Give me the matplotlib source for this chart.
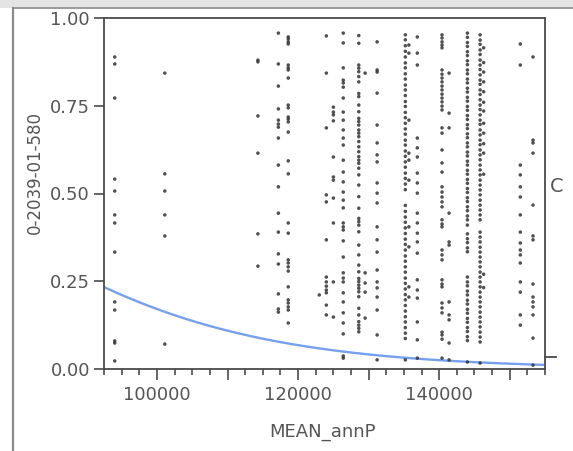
import numpy as np
import matplotlib
matplotlib.use("Agg")
import matplotlib.pyplot as plt
from matplotlib.lines import Line2D
from matplotlib.patches import Rectangle
from matplotlib.ticker import MultipleLocator, FuncFormatter

# ---- scatter data: each station column (MEAN_annP) with its observed values ----
col_094000 = [0.889, 0.869, 0.772, 0.541, 0.507, 0.439, 0.416, 0.333, 0.191, 0.168, 0.080, 0.074, 0.023]
col_101100 = [0.843, 0.556, 0.507, 0.439, 0.379, 0.071]
col_114300 = [0.880, 0.875, 0.721, 0.615, 0.385, 0.293]
col_117200 = [0.957, 0.869, 0.806, 0.741, 0.709, 0.698, 0.689, 0.658, 0.581, 0.519, 0.444, 0.390,
              0.328, 0.299, 0.214, 0.171, 0.162]
col_118600 = [0.946, 0.940, 0.932, 0.926, 0.866, 0.858, 0.852, 0.829, 0.752, 0.744, 0.718, 0.712,
              0.704, 0.675, 0.593, 0.556, 0.416, 0.387, 0.311, 0.302, 0.291, 0.279, 0.234, 0.197,
              0.188, 0.177, 0.168, 0.131]
col_123000 = [0.211]
col_124000 = [0.949, 0.843, 0.687, 0.496, 0.476, 0.368, 0.262, 0.248, 0.236, 0.225, 0.217, 0.182, 0.154]
col_125000 = [0.746, 0.732, 0.724, 0.707, 0.604, 0.547, 0.538, 0.487, 0.416, 0.248, 0.148]
col_126400 = [0.957, 0.929, 0.858, 0.823, 0.815, 0.803, 0.772, 0.732, 0.709, 0.681, 0.658, 0.638,
              0.595, 0.561, 0.533, 0.504, 0.481, 0.459, 0.416, 0.405, 0.396, 0.365, 0.319, 0.274,
              0.259, 0.248, 0.217, 0.191, 0.160, 0.131, 0.100, 0.037, 0.031]
col_128600 = [0.950, 0.928, 0.866, 0.857, 0.847, 0.833, 0.818, 0.785, 0.776, 0.752, 0.733, 0.714,
              0.705, 0.695, 0.681, 0.672, 0.662, 0.648, 0.633, 0.619, 0.605, 0.595, 0.586, 0.572,
              0.553, 0.524, 0.491, 0.458, 0.429, 0.420, 0.410, 0.391, 0.353, 0.325, 0.296, 0.277,
              0.258, 0.249, 0.239, 0.230, 0.220, 0.206, 0.173, 0.154, 0.135, 0.125, 0.116, 0.106]
col_129500 = [0.843, 0.274, 0.245, 0.219, 0.145]
col_131200 = [0.932, 0.852, 0.846, 0.786, 0.695, 0.644, 0.610, 0.590, 0.530, 0.501, 0.473, 0.405,
              0.368, 0.333, 0.282, 0.248, 0.231, 0.205, 0.168, 0.097, 0.026]
col_135200 = [0.952, 0.938, 0.921, 0.905, 0.889, 0.872, 0.858, 0.841, 0.826, 0.809, 0.795, 0.779,
              0.762, 0.748, 0.731, 0.716, 0.700, 0.684, 0.669, 0.652, 0.638, 0.621, 0.606, 0.590,
              0.575, 0.558, 0.543, 0.527, 0.511, 0.466, 0.449, 0.433, 0.418, 0.402, 0.386, 0.370,
              0.355, 0.339, 0.322, 0.307, 0.291, 0.276, 0.259, 0.244, 0.228, 0.212, 0.197, 0.181,
              0.165, 0.149, 0.134, 0.118, 0.102, 0.087, 0.026]
col_135700 = [0.923, 0.900, 0.709, 0.615, 0.595, 0.538, 0.405, 0.348, 0.234, 0.205]
col_136900 = [0.946, 0.900, 0.866, 0.658, 0.630, 0.604, 0.558, 0.530, 0.501, 0.444, 0.416, 0.387,
              0.362, 0.330, 0.254, 0.225, 0.202, 0.134, 0.083, 0.031]
col_140400 = [0.952, 0.943, 0.932, 0.923, 0.915, 0.852, 0.840, 0.829, 0.818, 0.806, 0.795, 0.783,
              0.772, 0.761, 0.749, 0.738, 0.687, 0.672, 0.624, 0.587, 0.561, 0.519, 0.504, 0.490,
              0.476, 0.462, 0.425, 0.413, 0.405, 0.339, 0.325, 0.311, 0.254, 0.242, 0.234, 0.188,
              0.174, 0.160, 0.105, 0.097, 0.085, 0.031]
col_141400 = [0.843, 0.729, 0.687, 0.444, 0.362, 0.353, 0.191, 0.154, 0.140, 0.074, 0.026]
col_144000 = [0.957, 0.945, 0.930, 0.919, 0.904, 0.893, 0.878, 0.867, 0.852, 0.841, 0.826, 0.815,
              0.800, 0.789, 0.774, 0.763, 0.748, 0.737, 0.722, 0.711, 0.696, 0.685, 0.670, 0.659,
              0.644, 0.633, 0.618, 0.607, 0.592, 0.581, 0.566, 0.555, 0.540, 0.529, 0.514, 0.503,
              0.488, 0.477, 0.462, 0.451, 0.436, 0.425, 0.410, 0.385, 0.371, 0.360, 0.345, 0.334,
              0.262, 0.248, 0.237, 0.222, 0.211, 0.196, 0.185, 0.170, 0.159, 0.144, 0.133, 0.118,
              0.107, 0.092, 0.081, 0.020]
col_145800 = [0.952, 0.937, 0.925, 0.909, 0.896, 0.880, 0.866, 0.853, 0.838, 0.823, 0.811, 0.795,
              0.782, 0.767, 0.752, 0.739, 0.724, 0.709, 0.697, 0.681, 0.667, 0.652, 0.639, 0.624,
              0.610, 0.596, 0.581, 0.567, 0.553, 0.538, 0.524, 0.510, 0.496, 0.481, 0.467, 0.453,
              0.439, 0.425, 0.390, 0.376, 0.362, 0.347, 0.333, 0.319, 0.305, 0.291, 0.276, 0.262,
              0.248, 0.234, 0.219, 0.205, 0.191, 0.177, 0.162, 0.148, 0.134, 0.120, 0.105, 0.091,
              0.077, 0.017]
col_146300 = [0.915, 0.873, 0.846, 0.818, 0.790, 0.760, 0.735, 0.700, 0.672, 0.642, 0.615, 0.555,
              0.270, 0.232]
col_151500 = [0.926, 0.866, 0.581, 0.553, 0.519, 0.490, 0.439, 0.390, 0.359, 0.339, 0.325, 0.302,
              0.248, 0.219, 0.154, 0.125]
col_153300 = [0.889, 0.652, 0.644, 0.615, 0.467, 0.379, 0.368, 0.242, 0.205, 0.191, 0.177, 0.154,
              0.088, 0.011]

columns = {
    94000: col_094000, 101100: col_101100, 114300: col_114300, 117200: col_117200,
    118600: col_118600, 123000: col_123000, 124000: col_124000, 125000: col_125000,
    126400: col_126400, 128600: col_128600, 129500: col_129500, 131200: col_131200,
    135200: col_135200, 135700: col_135700, 136900: col_136900, 140400: col_140400,
    141400: col_141400, 144000: col_144000, 145800: col_145800, 146300: col_146300,
    151500: col_151500, 153300: col_153300,
}

# logistic fit of the response on MEAN_annP
fit_intercept = 3.62
fit_slope = -5.2e-5

x_min, x_max = 92480, 155000

W, H = 573, 451
fig = plt.figure(figsize=(W / 100, H / 100), dpi=100)
fig.patch.set_facecolor("white")

# window chrome: grey title band and left border
fig.add_artist(Rectangle((0, 1 - 8 / H), 1, 8 / H, transform=fig.transFigure,
                         facecolor="#e4e4e4", edgecolor="none"))
fig.add_artist(Line2D([13 / W, 1], [1 - 8 / H, 1 - 8 / H], transform=fig.transFigure,
                      color="#9a9a9a", lw=1.4))
fig.add_artist(Line2D([13 / W, 13 / W], [0, 1 - 8 / H], transform=fig.transFigure,
                      color="#8a8a8a", lw=1.6))

ax = fig.add_axes([104 / W, 1 - 369 / H, 441 / W, 351 / H])

xs, ys = [], []
for xv, vals in columns.items():
    xs.extend([xv] * len(vals))
    ys.extend(vals)
ax.scatter(xs, ys, s=6.5, color="#333333", edgecolors="none", alpha=0.85, zorder=3)

xf = np.linspace(x_min, x_max, 300)
yf = 1.0 / (1.0 + np.exp(-(fit_intercept + fit_slope * xf)))
ax.plot(xf, yf, color="#76a0ee", lw=1.7, zorder=2)

ax.set_xlim(x_min, x_max)
ax.set_ylim(0, 1.0)

for sp in ax.spines.values():
    sp.set_color("#4a4a4a")
    sp.set_linewidth(1.3)

ax.xaxis.set_major_locator(MultipleLocator(10000))
ax.xaxis.set_minor_locator(MultipleLocator(2500))
ax.xaxis.set_major_formatter(FuncFormatter(lambda v, p: f"{int(round(v))}" if round(v) % 20000 == 0 else ""))
ax.yaxis.set_major_locator(MultipleLocator(0.25))
ax.yaxis.set_major_formatter(FuncFormatter(lambda v, p: f"{v:.2f}"))

ax.tick_params(axis="x", which="major", direction="out", length=8, width=1.2,
               color="#4a4a4a", labelsize=13, labelcolor="#555555", pad=4)
ax.tick_params(axis="x", which="minor", direction="out", length=4, width=1.2, color="#4a4a4a")
ax.tick_params(axis="y", which="major", direction="out", length=7, width=1.2,
               color="#4a4a4a", labelsize=13, labelcolor="#555555", pad=3)

fig.text(323 / W, 1 - 432 / H, "MEAN_annP", ha="center", va="center",
         fontsize=13, color="#555555")
fig.text(35 / W, 1 - 173 / H, "0-2039-01-580", ha="center", va="center",
         rotation=90, fontsize=12, color="#555555")
fig.text(557 / W, 1 - 187 / H, "C", ha="center", va="center",
         fontsize=14, color="#555555")
fig.add_artist(Line2D([545 / W, 556 / W], [1 - 357 / H, 1 - 357 / H], transform=fig.transFigure,
                      color="#4a4a4a", lw=1.3))

fig.savefig("out.png", dpi=100)
